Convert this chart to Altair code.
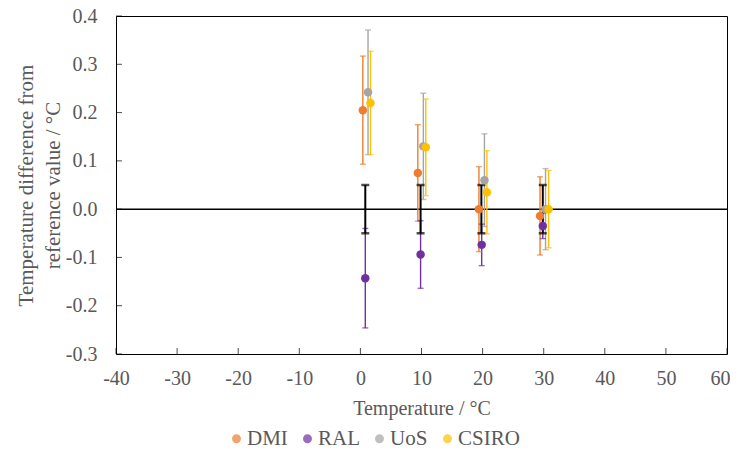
import altair as alt
import pandas as pd

# ---- data ----
series = ["DMI", "RAL", "UoS", "CSIRO"]
colors = ["#ED7D31", "#7030A0", "#A5A5A5", "#FFC000"]

dmi_t = [0.4, 9.4, 19.4, 29.4]
dmi_d = [0.205, 0.075, 0.0, -0.014]
dmi_e = [0.112, 0.100, 0.088, 0.081]

ral_t = [0.8, 9.85, 19.85, 29.85]
ral_d = [-0.143, -0.094, -0.074, -0.035]
ral_e = [0.103, 0.070, 0.043, 0.026]

uos_t = [1.25, 10.3, 20.3, 30.3]
uos_d = [0.242, 0.130, 0.060, 0.000]
uos_e = [0.129, 0.110, 0.096, 0.084]

csiro_t = [1.65, 10.7, 20.7, 30.8]
csiro_d = [0.220, 0.128, 0.035, 0.000]
csiro_e = [0.107, 0.100, 0.086, 0.080]

ref_t = [0.8, 9.85, 19.8, 29.85]
ref_d = [0.0, 0.0, 0.0, 0.0]
ref_e = [0.05, 0.05, 0.05, 0.05]

x_ticks = [-40, -30, -20, -10, 0, 10, 20, 30, 40, 50, 60]
y_ticks = [-0.3, -0.2, -0.1, 0.0, 0.1, 0.2, 0.3, 0.4]

# ---- tables ----
rows = []
for name, ts, ds, es in [("DMI", dmi_t, dmi_d, dmi_e), ("RAL", ral_t, ral_d, ral_e),
                         ("UoS", uos_t, uos_d, uos_e), ("CSIRO", csiro_t, csiro_d, csiro_e)]:
    for t, d, e in zip(ts, ds, es):
        rows.append({"series": name, "t": t, "d": d, "lo": d - e, "hi": d + e})
df = pd.DataFrame(rows)
ref = pd.DataFrame({"t": ref_t, "d": ref_d,
                    "lo": [d - e for d, e in zip(ref_d, ref_e)],
                    "hi": [d + e for d, e in zip(ref_d, ref_e)]})
xt = pd.DataFrame({"v": x_ticks})
yt = pd.DataFrame({"v": y_ticks})
zero = pd.DataFrame({"z": [0.0]})

FONT = "Liberation Serif, Times New Roman, DejaVu Serif, serif"
GREY = "#595959"

xs = alt.Scale(domain=[-40, 60], nice=False, zero=False)
ys = alt.Scale(domain=[-0.3, 0.4], nice=False, zero=False)

xaxis = alt.Axis(values=x_ticks, ticks=False, domain=False, grid=False,
                 labelExpr="datum.value < 0 ? '-' + format(-datum.value, 'd') : format(datum.value, 'd')",
                 labelFont=FONT, labelFontSize=20, labelColor=GREY, labelPadding=14,
                 labelOffset={"expr": "datum.value == 60 ? -7 : 0"},
                 labelFlush=False, labelOverlap=False,
                 title="Temperature / °C", titleFont=FONT, titleFontSize=20,
                 titleFontWeight="normal", titleColor=GREY, titlePadding=10)
yaxis = alt.Axis(values=y_ticks, ticks=False, domain=False, grid=False,
                 labelExpr="datum.value < -0.00001 ? '-' + format(-datum.value, '.1f') : format(abs(datum.value), '.1f')",
                 labelFont=FONT, labelFontSize=20, labelColor=GREY, labelPadding=19,
                 labelFlush=False, labelOverlap=False,
                 title=["Temperature difference from", "reference value / °C"],
                 titleFont=FONT, titleFontSize=21, titleFontWeight="normal", titleColor=GREY,
                 titleAngle=-90, titleX=-80, titleY=169, titleAlign="center",
                 titleBaseline="bottom", titleLineHeight=27)

color = alt.Color("series:N", scale=alt.Scale(domain=series, range=colors),
                  legend=alt.Legend(title=None, orient="none", legendX=110, legendY=412,
                                    direction="horizontal", symbolType="circle", symbolSize=55,
                                    labelFont=FONT, labelFontSize=21, labelColor=GREY,
                                    labelOffset=0, columnPadding=9))

zero_line = alt.Chart(zero).mark_rule(color="black", strokeWidth=1.5).encode(
    y=alt.Y("z:Q", scale=ys, axis=yaxis))

x_tick_marks = alt.Chart(xt).mark_tick(orient="vertical", size=6, thickness=1, color="black").encode(
    x=alt.X("v:Q", scale=xs, axis=xaxis), y=alt.value(335))
y_tick_marks = alt.Chart(yt).mark_tick(orient="horizontal", size=6, thickness=1, color="black").encode(
    y=alt.Y("v:Q", scale=ys, axis=yaxis), x=alt.value(3))

err_rule = alt.Chart(df).mark_rule(strokeWidth=1.4).encode(
    x=alt.X("t:Q", scale=xs, axis=xaxis), y=alt.Y("lo:Q", scale=ys, axis=yaxis), y2="hi:Q", color=color)
cap_lo = alt.Chart(df).mark_tick(orient="horizontal", size=6, thickness=1.4).encode(
    x=alt.X("t:Q", scale=xs, axis=xaxis), y=alt.Y("lo:Q", scale=ys, axis=yaxis), color=color)
cap_hi = alt.Chart(df).mark_tick(orient="horizontal", size=6, thickness=1.4).encode(
    x=alt.X("t:Q", scale=xs, axis=xaxis), y=alt.Y("hi:Q", scale=ys, axis=yaxis), color=color)

ref_rule = alt.Chart(ref).mark_rule(strokeWidth=2, color="black").encode(
    x=alt.X("t:Q", scale=xs, axis=xaxis), y=alt.Y("lo:Q", scale=ys, axis=yaxis), y2="hi:Q")
ref_lo = alt.Chart(ref).mark_tick(orient="horizontal", size=8, thickness=2.5, color="black").encode(
    x=alt.X("t:Q", scale=xs, axis=xaxis), y=alt.Y("lo:Q", scale=ys, axis=yaxis))
ref_hi = alt.Chart(ref).mark_tick(orient="horizontal", size=8, thickness=2.5, color="black").encode(
    x=alt.X("t:Q", scale=xs, axis=xaxis), y=alt.Y("hi:Q", scale=ys, axis=yaxis))

points = alt.Chart(df).mark_circle(size=72, opacity=1).encode(
    x=alt.X("t:Q", scale=xs, axis=xaxis), y=alt.Y("d:Q", scale=ys, axis=yaxis), color=color)

chart = alt.layer(
    zero_line, x_tick_marks, y_tick_marks,
    err_rule, cap_lo, cap_hi, ref_rule, ref_lo, ref_hi, points
).properties(
    width=611, height=338,
    autosize=alt.AutoSizeParams(type="none"),
    padding={"left": 108, "top": 8, "right": 3, "bottom": 103},
    background="white"
).configure_view(stroke="black", strokeWidth=1)

chart.save("out.html", embed_options={"renderer": "svg", "actions": False})
